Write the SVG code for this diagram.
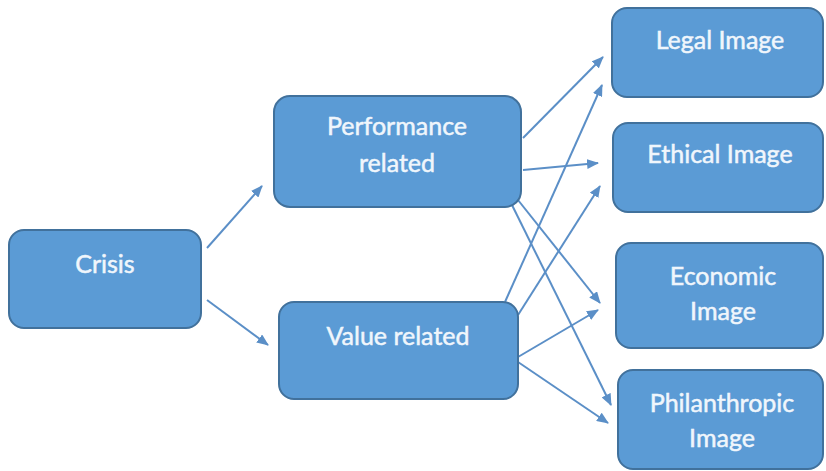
<svg xmlns="http://www.w3.org/2000/svg" width="826" height="471" viewBox="0 0 826 471">
  <style>
    .box { fill: #5B9BD5; stroke: #41719C; stroke-width: 2; }
    .label { font-family: Lato, "Open Sans", "Liberation Sans", sans-serif; font-size: 25px; fill: #F0F6FC; stroke: #F0F6FC; stroke-width: 0.5; text-anchor: middle; }
    .edge { stroke: #5B8FC7; stroke-width: 2; fill: none; marker-end: url(#arrow); }
  </style>
  <defs>
    <marker id="arrow" markerUnits="userSpaceOnUse" viewBox="0 0 12 10" refX="11" refY="5" markerWidth="12" markerHeight="10" orient="auto">
      <path d="M0,0 L12,5 L0,10 Z" fill="#5B8FC7"/>
    </marker>
  </defs>
  <rect width="826" height="471" fill="#FFFFFF"/>

  <g id="connectors">
    <line class="edge" x1="207" y1="248" x2="262" y2="186"/>
    <line class="edge" x1="207" y1="300" x2="268" y2="345"/>
    <line class="edge" x1="523" y1="138" x2="603" y2="57"/>
    <line class="edge" x1="523" y1="170" x2="598" y2="163"/>
    <line class="edge" x1="518" y1="200" x2="600" y2="303"/>
    <line class="edge" x1="512" y1="205" x2="611" y2="405"/>
    <line class="edge" x1="505" y1="302" x2="602" y2="85"/>
    <line class="edge" x1="518" y1="315" x2="600" y2="186"/>
    <line class="edge" x1="518" y1="357" x2="598" y2="310"/>
    <line class="edge" x1="518" y1="362" x2="608" y2="423"/>
  </g>

  <g id="crisis">
    <rect class="box" x="9" y="230" width="192" height="98" rx="15"/>
    <text class="label" x="105" y="273">Crisis</text>
  </g>
  <g id="performance-related">
    <rect class="box" x="274" y="96" width="247" height="111" rx="16"/>
    <text class="label" x="397" y="135">Performance</text>
    <text class="label" x="397" y="172">related</text>
  </g>
  <g id="value-related">
    <rect class="box" x="279" y="302" width="239" height="97" rx="15"/>
    <text class="label" x="398" y="345">Value related</text>
  </g>
  <g id="legal-image">
    <rect class="box" x="612" y="8" width="211" height="89" rx="15"/>
    <text class="label" x="720" y="49">Legal Image</text>
  </g>
  <g id="ethical-image">
    <rect class="box" x="613" y="123" width="210" height="89" rx="15"/>
    <text class="label" x="720" y="163">Ethical Image</text>
  </g>
  <g id="economic-image">
    <rect class="box" x="616" y="243" width="207" height="105" rx="15"/>
    <text class="label" x="723" y="285">Economic</text>
    <text class="label" x="723" y="320">Image</text>
  </g>
  <g id="philanthropic-image">
    <rect class="box" x="618" y="370" width="205" height="99" rx="15"/>
    <text class="label" x="722" y="412">Philanthropic</text>
    <text class="label" x="722" y="447">Image</text>
  </g>
</svg>
